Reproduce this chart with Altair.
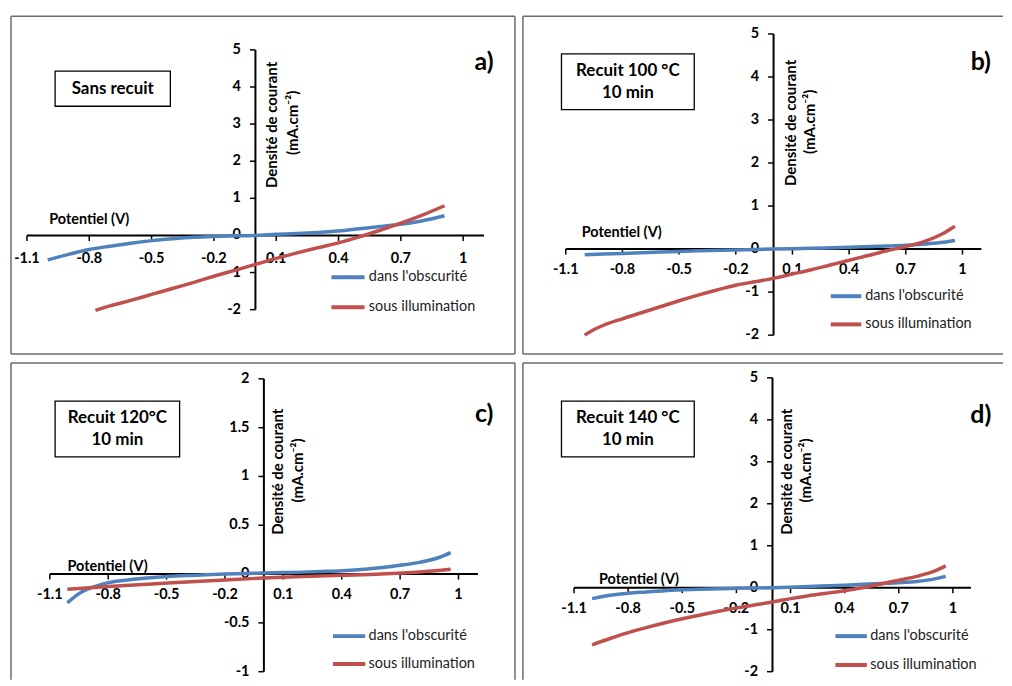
import altair as alt
import pandas as pd

FONT = "Lato"
BLUE = "#4F81BD"
RED = "#C0504D"
BORDER = "#6b6b6b"

# ---------------- data ----------------
series_names = ["dans l'obscurité", "sous illumination"]

a_dark_x = [-1.0, -0.9, -0.8, -0.7, -0.6, -0.5, -0.4, -0.3, -0.2, -0.1, 0.0, 0.1, 0.2, 0.3, 0.4, 0.5, 0.6, 0.7, 0.8, 0.91]
a_dark_y = [-0.66, -0.51, -0.38, -0.29, -0.21, -0.14, -0.09, -0.05, -0.03, -0.01, 0.0, 0.03, 0.05, 0.08, 0.12, 0.18, 0.24, 0.30, 0.39, 0.53]
a_light_x = [-0.77, -0.7, -0.6, -0.5, -0.4, -0.3, -0.2, -0.1, 0.0, 0.1, 0.2, 0.3, 0.4, 0.5, 0.6, 0.7, 0.8, 0.91]
a_light_y = [-2.02, -1.9, -1.75, -1.59, -1.43, -1.27, -1.1, -0.94, -0.78, -0.62, -0.47, -0.33, -0.2, -0.04, 0.14, 0.33, 0.54, 0.8]

b_dark_x = [-1.0, -0.8, -0.6, -0.4, -0.2, 0.0, 0.2, 0.4, 0.6, 0.7, 0.8, 0.9, 0.96]
b_dark_y = [-0.13, -0.1, -0.07, -0.04, -0.02, 0.0, 0.02, 0.04, 0.07, 0.09, 0.12, 0.16, 0.2]
b_light_x = [-1.0, -0.95, -0.9, -0.8, -0.7, -0.6, -0.5, -0.4, -0.3, -0.2, -0.1, 0.0, 0.1, 0.2, 0.3, 0.4, 0.5, 0.6, 0.7, 0.8, 0.9, 0.96]
b_light_y = [-2.0, -1.87, -1.77, -1.62, -1.48, -1.34, -1.2, -1.07, -0.95, -0.84, -0.76, -0.68, -0.58, -0.48, -0.37, -0.26, -0.15, -0.04, 0.06, 0.18, 0.37, 0.53]

c_dark_x = [-1.01, -0.95, -0.9, -0.85, -0.8, -0.7, -0.6, -0.5, -0.4, -0.3, -0.2, -0.1, 0.0, 0.1, 0.2, 0.3, 0.4, 0.5, 0.6, 0.7, 0.8, 0.9, 0.96]
c_dark_y = [-0.295, -0.2, -0.15, -0.115, -0.088, -0.06, -0.04, -0.025, -0.015, -0.008, 0.0, 0.005, 0.01, 0.015, 0.02, 0.027, 0.035, 0.048, 0.065, 0.09, 0.12, 0.17, 0.22]
c_light_x = [-1.01, -0.8, -0.6, -0.4, -0.2, 0.0, 0.2, 0.4, 0.6, 0.8, 0.96]
c_light_y = [-0.155, -0.128, -0.104, -0.082, -0.06, -0.04, -0.026, -0.013, 0.0, 0.022, 0.05]

d_dark_x = [-1.0, -0.9, -0.8, -0.7, -0.6, -0.5, -0.4, -0.2, 0.0, 0.2, 0.4, 0.6, 0.7, 0.8, 0.9, 0.96]
d_dark_y = [-0.26, -0.18, -0.13, -0.1, -0.07, -0.05, -0.035, -0.015, 0.0, 0.03, 0.06, 0.1, 0.12, 0.15, 0.21, 0.27]
d_light_x = [-1.0, -0.9, -0.8, -0.7, -0.6, -0.5, -0.4, -0.3, -0.2, -0.1, 0.0, 0.1, 0.2, 0.3, 0.4, 0.5, 0.6, 0.7, 0.8, 0.9, 0.96]
d_light_y = [-1.36, -1.21, -1.07, -0.95, -0.84, -0.74, -0.65, -0.56, -0.48, -0.41, -0.34, -0.26, -0.19, -0.13, -0.07, 0.0, 0.09, 0.18, 0.27, 0.4, 0.52]

x_ticks = [-1.1, -0.8, -0.5, -0.2, 0.1, 0.4, 0.7, 1.0]
x_tick_labels = ["-1.1", "-0.8", "-0.5", "-0.2", "0.1", "0.4", "0.7", "1"]
y_ticks_main = [-2, -1, 0, 1, 2, 3, 4, 5]
y_tick_labels_main = ["-2", "-1", "0", "1", "2", "3", "4", "5"]
y_ticks_c = [-1, -0.5, 0, 0.5, 1, 1.5, 2]
y_tick_labels_c = ["-1", "-0.5", "0", "0.5", "1", "1.5", "2"]

box_texts = [["Sans recuit"], ["Recuit 100 °C", "10 min"], ["Recuit 120°C", "10 min"], ["Recuit 140 °C", "10 min"]]
panel_letters = ["a)", "b)", "c)", "d)"]
x_title = "Potentiel (V)"
y_title_1 = "Densité de courant"
y_title_2 = "(mA.cm⁻²)"

# ---------------- layout (pixels inside each panel box) ----------------
W_LEFT, W_RIGHT = 506, 482
H_TOP, H_BOTTOM = 339, 318


def xdom(x_at_m11, ppu, w):
    left = -1.1 - x_at_m11 / ppu
    return [left, left + w / ppu]


def ydom(top_val, px_from_top, ppu, h):
    top = top_val + px_from_top / ppu
    return [top - h / ppu, top]


LAYOUT = [
    dict(w=W_LEFT, h=H_TOP, xdom=xdom(16, 208.57, W_LEFT), ydom=ydom(5, 33.7, 37.26, H_TOP),
         yrange=[-2, 5], yt=(y_ticks_main, y_tick_labels_main), sides="tblr",
         xlab_dy=24, xt_pos=(38.3, 204.3), yt1=(262.3, 109), yt2=(283.3, 107),
         rect=(44.3, 160, 55, 90.3), box_cx=102.2, box_ys=[72.7], letter=(475, 46),
         leg=(321.7, 355, [262, 292], 359.3), dark=(a_dark_x, a_dark_y), light=(a_light_x, a_light_y)),
    dict(w=W_RIGHT, h=H_TOP, xdom=xdom(43, 189.67, W_RIGHT), ydom=ydom(5, 17.7, 43.2, H_TOP),
         yrange=[-2, 5], yt=(y_ticks_main, y_tick_labels_main), sides="tbl",
         xlab_dy=21, xt_pos=(59, 217.7), yt1=(268.7, 107), yt2=(288, 106),
         rect=(38.7, 172, 37.7, 93.7), box_cx=105.3, box_ys=[55, 77], letter=(459.7, 46),
         leg=(309, 339.7, [281, 309.3], 343.7), dark=(b_dark_x, b_dark_y), light=(b_light_x, b_light_y)),
    dict(w=W_LEFT, h=H_BOTTOM, xdom=xdom(39, 195.38, W_LEFT), ydom=ydom(2, 16, 98.0, H_BOTTOM),
         yrange=[-1, 2], yt=(y_ticks_c, y_tick_labels_c), sides="tlr",
         xlab_dy=21, xt_pos=(56.7, 205), yt1=(268.3, 109.2), yt2=(288.3, 108),
         rect=(44.3, 169.3, 38.3, 94.3), box_cx=106.8, box_ys=[55, 77.3], letter=(475, 51.7),
         leg=(323.3, 355.7, [274.3, 302.3], 359), dark=(c_dark_x, c_dark_y), light=(c_light_x, c_light_y)),
    dict(w=W_RIGHT, h=H_BOTTOM, xdom=xdom(51.3, 181.14, W_RIGHT), ydom=ydom(5, 15, 42.14, H_BOTTOM),
         yrange=[-2, 5], yt=(y_ticks_main, y_tick_labels_main), sides="tl",
         xlab_dy=21, xt_pos=(76.3, 218.3), yt1=(264.7, 109.2), yt2=(284.7, 108),
         rect=(38.7, 172, 38.3, 94.3), box_cx=105.3, box_ys=[55, 77.3], letter=(459.7, 52.3),
         leg=(313.7, 345.3, [274.3, 303.3], 348.7), dark=(d_dark_x, d_dark_y), light=(d_light_x, d_light_y)),
]

color_scale = alt.Scale(domain=series_names, range=[BLUE, RED])
ONE = pd.DataFrame({"k": [0]})


def build_panel(i):
    L = LAYOUT[i]
    W, H = L["w"], L["h"]
    xs = alt.Scale(domain=L["xdom"], nice=False, zero=False)
    ys = alt.Scale(domain=L["ydom"], nice=False, zero=False)

    def X(f):
        return alt.X(f, type="quantitative", scale=xs, axis=None)

    def Y(f):
        return alt.Y(f, type="quantitative", scale=ys, axis=None)

    ppu_x = W / (L["xdom"][1] - L["xdom"][0])
    ppu_y = H / (L["ydom"][1] - L["ydom"][0])
    tick_y = 5.5 / ppu_y
    tick_x = 5.5 / ppu_x

    dx_, dy_ = L["dark"]
    lx_, ly_ = L["light"]
    curves = pd.concat([
        pd.DataFrame({"V": dx_, "J": dy_, "serie": series_names[0]}),
        pd.DataFrame({"V": lx_, "J": ly_, "serie": series_names[1]}),
    ])

    layers = []
    # panel border (only the sides visible in the frame)
    s = L["sides"]
    if "t" in s:
        layers.append(alt.Chart(ONE).mark_rule(color=BORDER, strokeWidth=1.5)
                      .encode(x=alt.value(0), x2=alt.value(W), y=alt.value(0)))
    if "b" in s:
        layers.append(alt.Chart(ONE).mark_rule(color=BORDER, strokeWidth=1.5)
                      .encode(x=alt.value(0), x2=alt.value(W), y=alt.value(H)))
    if "l" in s:
        layers.append(alt.Chart(ONE).mark_rule(color=BORDER, strokeWidth=1.5)
                      .encode(x=alt.value(0), y=alt.value(0), y2=alt.value(H)))
    if "r" in s:
        layers.append(alt.Chart(ONE).mark_rule(color=BORDER, strokeWidth=1.5)
                      .encode(x=alt.value(W), y=alt.value(0), y2=alt.value(H)))
    # axis lines
    layers.append(alt.Chart(pd.DataFrame({"a": [x_ticks[0]], "b": [1.1], "z": [0]}))
                  .mark_rule(color="black", strokeWidth=2)
                  .encode(x=X("a"), x2="b", y=Y("z")))
    layers.append(alt.Chart(pd.DataFrame({"a": [L["yrange"][0]], "b": [L["yrange"][1]], "z": [0]}))
                  .mark_rule(color="black", strokeWidth=2)
                  .encode(y=Y("a"), y2="b", x=X("z")))
    # ticks
    xt_df = pd.DataFrame({"v": x_ticks, "lab": x_tick_labels, "z": 0.0, "z2": -tick_y})
    layers.append(alt.Chart(xt_df).mark_rule(color="black", strokeWidth=1.5)
                  .encode(x=X("v"), y=Y("z"), y2="z2"))
    yvals, ylabs = L["yt"]
    yt_df = pd.DataFrame({"v": yvals, "lab": ylabs, "z": 0.0, "z2": -tick_x})
    layers.append(alt.Chart(yt_df).mark_rule(color="black", strokeWidth=1.5)
                  .encode(y=Y("v"), x=X("z2"), x2="z"))
    # tick labels
    layers.append(alt.Chart(xt_df).mark_text(font=FONT, fontWeight="bold", fontSize=14.5, color="black",
                                             align="center", baseline="middle", dy=L["xlab_dy"])
                  .encode(x=X("v"), y=Y("z"), text="lab:N"))
    layers.append(alt.Chart(yt_df).mark_text(font=FONT, fontWeight="bold", fontSize=14.5, color="black",
                                             align="right", baseline="middle", dx=-14.5)
                  .encode(y=Y("v"), x=X("z"), text="lab:N"))
    # data curves
    layers.append(alt.Chart(curves).mark_line(strokeWidth=3.5, interpolate="monotone")
                  .encode(x=X("V"), y=Y("J"),
                          color=alt.Color("serie:N", scale=color_scale, legend=None),
                          order="V:Q"))
    # axis titles
    layers.append(alt.Chart(ONE).mark_text(font=FONT, fontWeight="bold", fontSize=14.5, color="black",
                                           align="left", baseline="middle")
                  .encode(x=alt.value(L["xt_pos"][0]), y=alt.value(L["xt_pos"][1]), text=alt.value(x_title)))
    layers.append(alt.Chart(ONE).mark_text(font=FONT, fontWeight="bold", fontSize=15, color="black",
                                           align="center", baseline="middle", angle=270)
                  .encode(x=alt.value(L["yt1"][0]), y=alt.value(L["yt1"][1]), text=alt.value(y_title_1)))
    layers.append(alt.Chart(ONE).mark_text(font=FONT, fontWeight="bold", fontSize=15, color="black",
                                           align="center", baseline="middle", angle=270)
                  .encode(x=alt.value(L["yt2"][0]), y=alt.value(L["yt2"][1]), text=alt.value(y_title_2)))
    # annotation box
    r = L["rect"]
    layers.append(alt.Chart(ONE).mark_rect(fill="white", stroke="black", strokeWidth=1.3)
                  .encode(x=alt.value(r[0]), x2=alt.value(r[1]), y=alt.value(r[2]), y2=alt.value(r[3])))
    for line, yy in zip(box_texts[i], L["box_ys"]):
        layers.append(alt.Chart(ONE).mark_text(font=FONT, fontWeight="bold", fontSize=17, color="black",
                                               align="center", baseline="middle")
                      .encode(x=alt.value(L["box_cx"]), y=alt.value(yy), text=alt.value(line)))
    # panel letter
    layers.append(alt.Chart(ONE).mark_text(font=FONT, fontWeight="bold", fontSize=25, color="black",
                                           align="center", baseline="middle")
                  .encode(x=alt.value(L["letter"][0]), y=alt.value(L["letter"][1]), text=alt.value(panel_letters[i])))
    # legend
    lx0, lx1, lys, ltx = L["leg"]
    for name, col, yy in zip(series_names, [BLUE, RED], lys):
        layers.append(alt.Chart(ONE).mark_rule(color=col, strokeWidth=4)
                      .encode(x=alt.value(lx0), x2=alt.value(lx1), y=alt.value(yy)))
        layers.append(alt.Chart(ONE).mark_text(font=FONT, fontSize=14.5, color="#222222",
                                               align="left", baseline="middle")
                      .encode(x=alt.value(ltx), y=alt.value(yy), text=alt.value(name)))

    return alt.layer(*layers).properties(width=W, height=H)


panels = [build_panel(i) for i in range(4)]
chart = alt.vconcat(
    alt.hconcat(panels[0], panels[1], spacing=6),
    alt.hconcat(panels[2], panels[3], spacing=6),
    spacing=7,
).properties(
    padding={"left": 2, "top": 6, "right": 0, "bottom": 0},
    background="white",
).configure_view(
    strokeWidth=0, stroke=None
)

chart.save("out.html", embed_options={"renderer": "svg", "actions": False})
